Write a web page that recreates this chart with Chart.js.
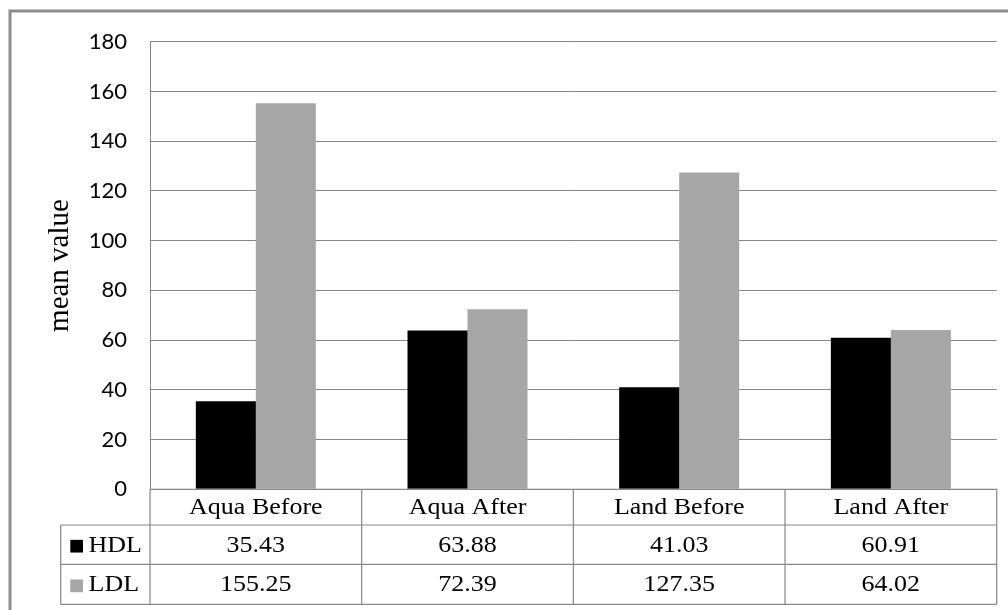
<!DOCTYPE html>
<html>
<head>
<meta charset="utf-8">
<script src="https://cdn.jsdelivr.net/npm/chart.js@4/dist/chart.umd.min.js"></script>
<style>
  html, body { margin: 0; padding: 0; background: #fff; }
  #chart { display: block; }
</style>
</head>
<body>
<canvas id="chart" width="1008" height="610"></canvas>
<script>
// data
const categories = ["Aqua Before", "Aqua After", "Land Before", "Land After"];
const seriesNames = ["HDL", "LDL"];
const hdlValues = [35.43, 63.88, 41.03, 60.91];
const ldlValues = [155.25, 72.39, 127.35, 64.02];
const seriesColors = ["#000000", "#a6a6a6"];
const yAxisTitle = "mean value";

const LINE_GRAY = "#878787";
const TABLE_FONT = "23px 'Liberation Serif'";

// the source picture is a bit stretched sideways, so text is widened a little
function wideText(ctx, text, x, y) {
    ctx.save();
    ctx.translate(x, y);
    ctx.scale(1.13, 1);
    ctx.fillText(text, 0, 0);
    ctx.restore();
}

// draws the outer frame and the data table under the plot
const dataTablePlugin = {
    id: "dataTable",
    afterDraw(chart) {
        const ctx = chart.ctx;
        const area = chart.chartArea;
        const xScale = chart.scales.x;
        const colW = (area.right - area.left) / categories.length;
        const rowTops = [area.bottom, area.bottom + 35.7, area.bottom + 75];
        const rowH = [35.7, 39.3, 40];
        const tableBottom = rowTops[2] + rowH[2];
        const legendLeft = 60.7;
        const allSeries = [hdlValues, ldlValues];

        ctx.save();

        // outer frame (cut off at right and bottom)
        ctx.strokeStyle = "#8c8c8c";
        ctx.lineWidth = 3;
        ctx.strokeRect(10, 11, 1010, 610);

        // table grid lines
        ctx.strokeStyle = LINE_GRAY;
        ctx.lineWidth = 1.2;
        ctx.beginPath();
        ctx.moveTo(area.left, rowTops[0]);
        ctx.lineTo(area.right, rowTops[0]);
        ctx.moveTo(legendLeft, rowTops[1]);
        ctx.lineTo(area.right, rowTops[1]);
        ctx.moveTo(legendLeft, rowTops[2]);
        ctx.lineTo(area.right, rowTops[2]);
        ctx.moveTo(legendLeft, tableBottom);
        ctx.lineTo(area.right, tableBottom);
        ctx.moveTo(legendLeft, rowTops[1]);
        ctx.lineTo(legendLeft, tableBottom);
        for (let i = 0; i <= categories.length; i++) {
            const x = area.left + i * colW;
            ctx.moveTo(x, rowTops[0]);
            ctx.lineTo(x, tableBottom);
        }
        ctx.stroke();

        ctx.fillStyle = "#000";
        ctx.font = TABLE_FONT;
        ctx.textBaseline = "middle";

        // category row
        ctx.textAlign = "center";
        categories.forEach(function (c, i) {
            wideText(ctx, c, xScale.getPixelForValue(i), rowTops[0] + rowH[0] / 2 + 1);
        });

        // series rows
        allSeries.forEach(function (vals, s) {
            const cy = rowTops[s + 1] + rowH[s + 1] / 2 + 1;
            ctx.fillStyle = seriesColors[s];
            ctx.fillRect(70.3, cy - 5.8, 12.7, 12.7);
            ctx.fillStyle = "#000";
            ctx.textAlign = "left";
            wideText(ctx, seriesNames[s], 88.5, cy);
            ctx.textAlign = "center";
            vals.forEach(function (v, i) {
                wideText(ctx, v.toFixed(2), xScale.getPixelForValue(i), cy);
            });
        });

        ctx.restore();
    }
};

new Chart(document.getElementById("chart"), {
    type: "bar",
    data: {
        labels: categories,
        datasets: [{
            label: seriesNames[0],
            data: hdlValues,
            backgroundColor: seriesColors[0],
            categoryPercentage: 0.567,
            barPercentage: 1.0
        }, {
            label: seriesNames[1],
            data: ldlValues,
            backgroundColor: seriesColors[1],
            categoryPercentage: 0.567,
            barPercentage: 1.0
        }]
    },
    options: {
        responsive: false,
        animation: false,
        devicePixelRatio: 1,
        layout: {
            padding: { left: 0, right: 11.3, top: 41.7, bottom: 120.7 }
        },
        plugins: {
            legend: { display: false },
            tooltip: { enabled: false }
        },
        scales: {
            x: {
                display: false
            },
            y: {
                min: 0,
                max: 180,
                ticks: {
                    stepSize: 20,
                    padding: 23,
                    color: "#000",
                    font: { family: "Lato", size: 22 }
                },
                grid: {
                    color: LINE_GRAY,
                    lineWidth: 1,
                    drawTicks: false
                },
                border: { color: LINE_GRAY, width: 1 },
                title: {
                    display: true,
                    text: yAxisTitle,
                    color: "#000",
                    font: { family: "Liberation Serif", size: 29 },
                    padding: { top: 42.6, bottom: 0 }
                },
                afterFit(scale) {
                    scale.width = 150;
                }
            }
        }
    },
    plugins: [dataTablePlugin]
});
</script>
</body>
</html>
